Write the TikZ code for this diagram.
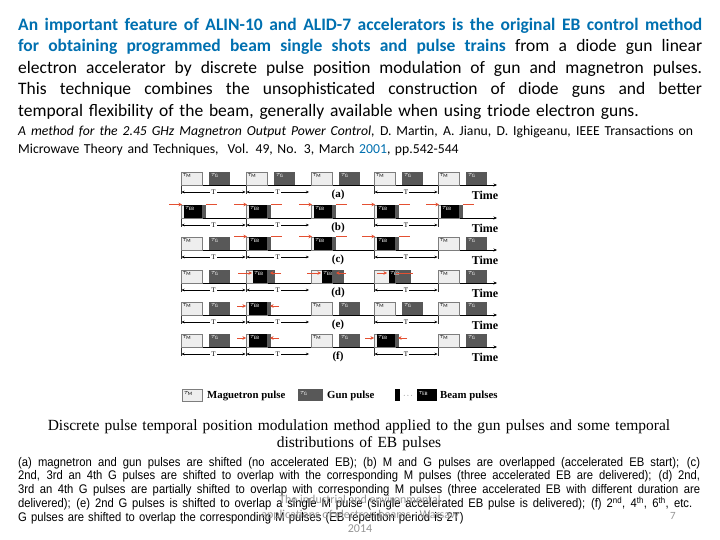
\documentclass[tikz,border=0pt]{standalone}
\usepackage{fontspec}
\setmainfont{Carlito}
\newfontfamily\tms{Liberation Serif}
\newfontfamily\ars[FakeStretch=0.9]{Liberation Sans}
\usetikzlibrary{arrows.meta}
\definecolor{ttlblue}{RGB}{0,112,176}
\definecolor{mfill}{RGB}{238,238,238}
\definecolor{mdraw}{RGB}{125,125,125}
\definecolor{gfill}{RGB}{88,88,88}
\definecolor{redln}{RGB}{228,80,50}
\definecolor{wmgray}{RGB}{150,150,150}
\tikzset{
  mstyle/.style={fill=mfill,draw=mdraw,line width=0.7pt},
  gstyle/.style={fill=gfill},
  lbl/.style={anchor=north west,inner sep=0pt,font=\fontsize{7}{7}\selectfont,text=black},
  lblw/.style={anchor=north west,inner sep=0pt,font=\fontsize{7}{7}\selectfont,text=white},
  axisline/.style={line width=0.6pt,-{Stealth[length=3.5pt,width=3pt]}},
  tickln/.style={line width=0.6pt,black!80},
  tarr/.style={line width=0.4pt,{Stealth[length=3pt,width=2.5pt]}-{Stealth[length=3pt,width=2.5pt]}},
  tlab/.style={fill=white,inner sep=1.2pt,font=\tms\fontsize{7}{7}\selectfont},
  rowlab/.style={inner sep=0pt,font=\tms\bfseries\fontsize{11}{11}\selectfont},
  timelab/.style={inner sep=0pt,font=\tms\bfseries\fontsize{12}{12}\selectfont},
  legtxt/.style={anchor=west,inner sep=0pt,font=\tms\bfseries\fontsize{10.8}{11}\selectfont},
  redarr/.style={draw=redln,line width=0.9pt,-{Stealth[length=3.5pt,width=3.5pt]}},
  redln/.style={draw=redln,line width=0.9pt},
}
% justified line of a given width
\newcommand\jline[2]{\leavevmode\hbox to #1{\spaceskip=.23em plus 2em minus .12em\relax #2}}
% pulse drawing helpers: #1 = period start x, #2 = axis y
\newcommand\MPulse[2]{\draw[mstyle] (#1,#2-13) rectangle ++(21,13);
  \node[lbl] at (#1+1.5,#2-11.5) {$\tau_{\mathrm{M}}$};}
\newcommand\GPulse[2]{\fill[gstyle] (#1+28,#2-13) rectangle ++(21,13);
  \node[lblw] at (#1+30,#2-11.5) {$\tau_{\mathrm{G}}$};}
\newcommand\MGPulse[2]{\MPulse{#1}{#2}\GPulse{#1}{#2}}
% #3 = gun shift inside M pulse
\newcommand\EBPulse[3]{\draw[mstyle] (#1,#2-13) rectangle ++(21,13);
  \fill[gstyle] (#1+#3,#2-13) rectangle ++(22,13);
  \fill[black] (#1+#3,#2-13) rectangle (#1+21,#2);
  \node[lblw] at (#1+#3+1,#2-11.5) {$\tau_{\mathrm{EB}}$};}
\newcommand\TopRed[2]{\draw[redarr] (#1-12,#2-13.5) -- (#1+1,#2-13.5);
  \draw[redln] (#1+25,#2-13.5) -- (#1+36,#2-13.5);}
\newcommand\InRed[2]{\draw[redarr] (#1-9,#2-9) -- (#1,#2-9);
  \draw[redarr] (#1+33,#2-9) -- (#1+24,#2-9);}
\newcommand\RowAxis[3]{% y, label, name
  \draw[axisline] (181,#1) -- (497,#1);
  \foreach \vx in {181,246,374,438} \draw[tickln] (\vx,#1-13) -- (\vx,#1+9);
  \draw[tarr] (181.5,#1+7) -- node[tlab]{T} (245.5,#1+7);
  \draw[tarr] (246.5,#1+7) -- node[tlab]{T} (309,#1+7);
  \draw[tarr] (374.5,#1+7) -- node[tlab]{T} (437.5,#1+7);
  \node[rowlab] (#3) at (338,#1+10) {#2};
  \node[timelab] (time#3) at (485,#1+10) {Time};}

\begin{document}
\begin{tikzpicture}[x=1pt,y=-1pt]
\useasboundingbox (0,0) rectangle (720,540);
\fill[white] (0,0) rectangle (720,540);

% ---------- top paragraph ----------
\node[anchor=base west,inner sep=0pt,text width=684pt,align=left,
      font=\fontsize{17.5}{21.5}\selectfont] (para) at (18,30.5) {%
\jline{684pt}{\textcolor{ttlblue}{\bfseries An important feature of ALIN-10 and ALID-7 accelerators is the original EB control method}}\\
\jline{684pt}{\textcolor{ttlblue}{\bfseries for obtaining programmed beam single shots and pulse trains} from a diode gun linear}\\
\jline{684pt}{electron accelerator by discrete pulse position modulation of gun and magnetron pulses.}\\
\jline{684pt}{This technique combines the unsophisticated construction of diode guns and better}\\
temporal flexibility of the beam, generally available when using triode electron guns.};

\node[anchor=base west,inner sep=0pt,text width=684pt,align=left,
      font=\fontsize{13.7}{18}\selectfont] (cite) at (18,135.5) {%
\jline{675pt}{\itshape A method for the 2.45 GHz Magnetron Output Power Control, \upshape D. Martin, A. Jianu, D. Ighigeanu, IEEE Transactions on}\\
Microwave Theory and Techniques,\ \ Vol. 49, No. 3, March \textcolor{ttlblue}{2001}, pp.542-544};

% ---------- diagram ----------
% row (a)
\RowAxis{185}{(a)}{ra}
\foreach \p in {181,246,311,374,438} {\MGPulse{\p}{185}}
% row (b)
\RowAxis{218}{(b)}{rb}
\foreach \p in {181,246,311,374,438} {\EBPulse{\p}{218}{3}\TopRed{\p}{218}}
% row (c)
\RowAxis{250}{(c)}{rc}
\MGPulse{181}{250}
\foreach \p in {246,311,374} {\EBPulse{\p}{250}{3}\TopRed{\p}{250}}
\MGPulse{438}{250}
% row (d)
\RowAxis{283}{(d)}{rd}
\MGPulse{181}{283}
\EBPulse{246}{283}{7}
\draw[redarr] (238,273) -- (252,273);
\draw[redarr] (281,273) -- (270,273);
\EBPulse{311}{283}{11}
\draw[redarr] (307,273) -- (321,273);
\draw[redarr] (346,273) -- (336,273);
\EBPulse{374}{283}{15}
\draw[redarr] (377,273) -- (387,273);
\draw[redln] (396,273) -- (413,273);
\MGPulse{438}{283}
% row (e)
\RowAxis{315}{(e)}{re}
\MGPulse{181}{315}
\EBPulse{246}{315}{3}\InRed{246}{315}
\foreach \p in {311,374,438} {\MGPulse{\p}{315}}
% row (f)
\RowAxis{347}{(f)}{rf}
\MGPulse{181}{347}
\EBPulse{246}{347}{3}\InRed{246}{347}
\MGPulse{311}{347}
\EBPulse{374}{347}{3}\InRed{374}{347}
\MGPulse{438}{347}

% legend
\draw[mstyle] (182,389) rectangle (202,401);
\node[lbl] (lm) at (184,391) {$\tau_{\mathrm{M}}$};
\node[legtxt] (lmt) at (207,395.5) {Maguetron pulse};
\fill[gstyle] (298,389) rectangle (323,401);
\node[lblw] (lg) at (300,391) {$\tau_{\mathrm{G}}$};
\node[legtxt] (lgt) at (327,395.5) {Gun pulse};
\fill[black] (395,389) rectangle (400,401);
\node[inner sep=0pt,font=\fontsize{7}{7}\selectfont] (ldots) at (408,396) {$\cdots$};
\fill[black] (417,389) rectangle (437,401);
\node[lblw] (leb) at (418.5,391) {$\tau_{\mathrm{EB}}$};
\node[legtxt] (lbt) at (440,395.5) {Beam pulses};

% ---------- caption ----------
\node[anchor=base,inner sep=0pt,text width=700pt,align=center,
      font=\tms\fontsize{15.5}{17.8}\selectfont] (cap) at (359,430) {%
Discrete pulse temporal position modulation method applied to the gun pulses and some temporal\\
distributions of EB pulses};

% ---------- explanation ----------
\node[anchor=base west,inner sep=0pt,text width=684pt,align=left,
      font=\ars\fontsize{12.5}{13.8}\selectfont] (expl) at (18,466) {%
\jline{682pt}{(a) magnetron and gun pulses are shifted (no accelerated EB); (b) M and G pulses are overlapped (accelerated EB start); (c)}\\
\jline{682pt}{2nd, 3rd an 4th G pulses are shifted to overlap with the corresponding M pulses (three accelerated EB are delivered); (d) 2nd,}\\
\jline{682pt}{3rd an 4th G pulses are partially shifted to overlap with corresponding M pulses (three accelerated EB with different duration are}\\
\jline{674pt}{delivered); (e) 2nd G pulses is shifted to overlap a single M pulse (single accelerated EB pulse is delivered); (f) 2\textsuperscript{nd}, 4\textsuperscript{th}, 6\textsuperscript{th}, etc.}\\
G pulses are shifted to overlap the corresponding M pulses (EB repetition period is 2T)};

% ---------- footer ----------
\node[inner sep=0pt,align=center,text=wmgray,font=\fontsize{12}{14.5}\selectfont] (foot) at (360,514) {%
The industrial and environmental\\applications of electron beams - Warsaw\\2014};
\node[inner sep=0pt,text=wmgray,font=\fontsize{11}{11}\selectfont] (pnum) at (673,516) {7};
\end{tikzpicture}
\end{document}
